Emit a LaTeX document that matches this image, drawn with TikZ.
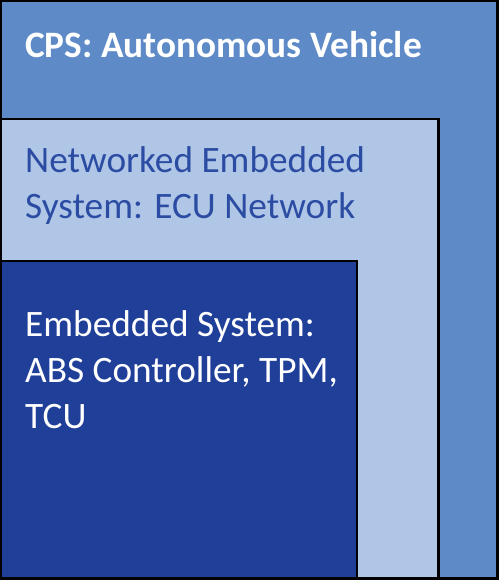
\documentclass[tikz,border=0pt]{standalone}
\usepackage{fontspec}
\setmainfont{Carlito}
\definecolor{outerblue}{HTML}{5E8BC8}
\definecolor{midblue}{HTML}{AFC6E6}
\definecolor{innerblue}{HTML}{203F98}
\definecolor{midtext}{HTML}{2C4CA3}
\begin{document}
\begin{tikzpicture}[x=1pt,y=-1pt,
  layer/.style={draw=black, line width=2.4pt},
  lbl/.style={anchor=base west, inner sep=0pt, align=left,
    font=\fontsize{37.3}{46}\selectfont}]
\useasboundingbox (0,0) rectangle (499,580);
\path[layer, fill=outerblue] (1.2,1.2) rectangle (497.3,578.6);
\path[layer, fill=midblue] (1.2,119) rectangle (438.5,578.6);
\path[layer, fill=innerblue] (1.2,260.8) rectangle (357.2,578.6);
\node[lbl, text=white, font=\fontsize{37.3}{46}\selectfont\bfseries] (cps) at (25,58) {CPS: Autonomous Vehicle};
\node[lbl, text=midtext] (nes) at (25,218) {Networked Embedded\\System: ECU Network};
\node[lbl, text=white] (es) at (25,428) {Embedded System:\\ABS Controller, TPM,\\TCU};
\end{tikzpicture}
\end{document}
